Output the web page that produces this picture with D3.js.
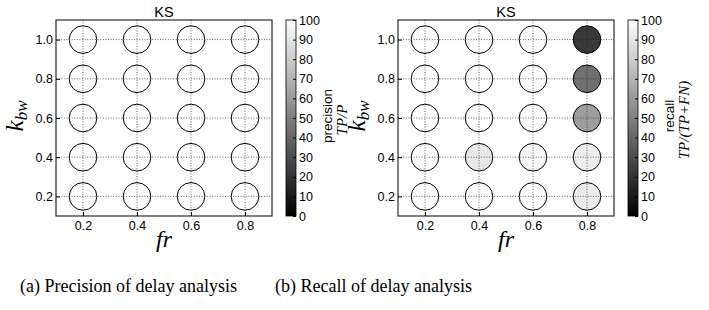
<!DOCTYPE html>
<html>
<head>
<meta charset="utf-8">
<script src="https://cdn.jsdelivr.net/npm/d3@7"></script>
<style>
  body { margin: 0; background: #fff; }
</style>
</head>
<body>
<div class="chart"></div>
<script>
// grid of the experiment
const frValues = [0.2, 0.4, 0.6, 0.8];
const kbwValues = [0.2, 0.4, 0.6, 0.8, 1.0];
const barTicks = [0, 10, 20, 30, 40, 50, 60, 70, 80, 90, 100];

// precision (%) per fr column, values listed for kbw 0.2 .. 1.0
const precisionFr02 = [100, 100, 100, 100, 100];
const precisionFr04 = [100, 100, 100, 100, 100];
const precisionFr06 = [100, 100, 100, 100, 100];
const precisionFr08 = [100, 100, 100, 100, 100];

// recall (%) per fr column, values listed for kbw 0.2 .. 1.0
const recallFr02 = [100, 100, 100, 100, 100];
const recallFr04 = [100, 91, 100, 100, 100];
const recallFr06 = [100, 97, 100, 100, 100];
const recallFr08 = [92, 93, 62, 44, 22];

const panels = [
  { offset: 0, cols: [precisionFr02, precisionFr04, precisionFr06, precisionFr08],
    label: 'precision', formula: 'TP/P', caption: '(a) Precision of delay analysis', capX: 20 },
  { offset: 342, cols: [recallFr02, recallFr04, recallFr06, recallFr08],
    label: 'recall', formula: 'TP/(TP+FN)', caption: '(b) Recall of delay analysis', capX: 275 }
];

const SANS = '"Liberation Sans", Arial, sans-serif';
const SERIF = '"Liberation Serif", "Times New Roman", serif';

const w = 709;
const h = 310;
const frame = { left: 56, right: 272, top: 20, bottom: 216 };

const svg = d3.select('.chart')
  .append('svg')
  .attr('width', w)
  .attr('height', h)
  .style('font-family', SANS);

const defs = svg.append('defs');
const grad = defs.append('linearGradient')
  .attr('id', 'gray')
  .attr('x1', 0).attr('y1', 1).attr('x2', 0).attr('y2', 0);
grad.append('stop').attr('offset', '0%').attr('stop-color', '#000');
grad.append('stop').attr('offset', '100%').attr('stop-color', '#fff');

const color = d3.scaleLinear().domain([0, 100]).range(['#000', '#fff']);

panels.forEach((p) => {
  const g = svg.append('g').attr('transform', `translate(${p.offset}, 0)`);

  const xScale = d3.scaleLinear().domain([0.1, 0.9]).range([frame.left, frame.right]);
  const yScale = d3.scaleLinear().domain([0.1, 1.1]).range([frame.bottom, frame.top]);

  const cells = [];
  frValues.forEach((fr, i) => {
    kbwValues.forEach((k, j) => cells.push({ fr: fr, k: k, v: p.cols[i][j] }));
  });

  g.selectAll('circle.cell')
    .data(cells)
    .enter()
    .append('circle')
    .attr('class', 'cell')
    .attr('cx', (d) => xScale(d.fr))
    .attr('cy', (d) => yScale(d.k))
    .attr('r', 13.8)
    .attr('fill', (d) => color(d.v))
    .attr('stroke', '#000')
    .attr('stroke-width', 1);

  // dotted grid on top, like the classic matplotlib look
  g.append('g')
    .selectAll('line')
    .data(frValues)
    .enter()
    .append('line')
    .attr('x1', (d) => xScale(d)).attr('x2', (d) => xScale(d))
    .attr('y1', frame.top).attr('y2', frame.bottom)
    .attr('stroke', '#222').attr('stroke-width', 0.7).attr('stroke-dasharray', '1,1.6');
  g.append('g')
    .selectAll('line')
    .data(kbwValues)
    .enter()
    .append('line')
    .attr('y1', (d) => yScale(d)).attr('y2', (d) => yScale(d))
    .attr('x1', frame.left).attr('x2', frame.right)
    .attr('stroke', '#222').attr('stroke-width', 0.7).attr('stroke-dasharray', '1,1.6');

  const xAxis = g.append('g')
    .attr('transform', `translate(0, ${frame.bottom})`)
    .call(d3.axisBottom(xScale).tickValues(frValues).tickFormat(d3.format('.1f'))
      .tickSizeInner(-4).tickSizeOuter(0).tickPadding(5));
  const yAxis = g.append('g')
    .attr('transform', `translate(${frame.left}, 0)`)
    .call(d3.axisLeft(yScale).tickValues(kbwValues).tickFormat(d3.format('.1f'))
      .tickSizeInner(-4).tickSizeOuter(0).tickPadding(3));
  [xAxis, yAxis].forEach((a) => {
    a.select('.domain').remove();
    a.attr('font-family', null).attr('font-size', null);
    a.selectAll('text').style('font-size', '12.5px').style('font-family', SANS).attr('fill', '#000');
  });

  g.append('rect')
    .attr('x', frame.left).attr('y', frame.top)
    .attr('width', frame.right - frame.left).attr('height', frame.bottom - frame.top)
    .attr('fill', 'none').attr('stroke', '#000').attr('stroke-width', 1);

  g.append('text')
    .attr('x', (frame.left + frame.right) / 2).attr('y', 17)
    .attr('text-anchor', 'middle').style('font-size', '14.5px')
    .text('KS');

  g.append('text')
    .attr('x', 164).attr('y', 247)
    .attr('text-anchor', 'middle')
    .style('font-family', SERIF).style('font-style', 'italic')
    .style('font-size', '24px')
    .text('fr');

  const kLabel = g.append('text')
    .attr('transform', 'translate(23, 116) rotate(-90)')
    .attr('text-anchor', 'middle')
    .style('font-family', SERIF).style('font-style', 'italic');
  kLabel.append('tspan').style('font-size', '25px').text('k');
  kLabel.append('tspan').style('font-size', '17px').attr('dy', 4).text('bw');

  // colour bar
  const barX = 286;
  const barW = 10;
  const cScale = d3.scaleLinear().domain([0, 100]).range([frame.bottom, frame.top]);
  g.append('rect')
    .attr('x', barX).attr('y', frame.top)
    .attr('width', barW).attr('height', frame.bottom - frame.top)
    .attr('fill', 'url(#gray)').attr('stroke', '#000').attr('stroke-width', 0.8);
  const cAxis = g.append('g')
    .attr('transform', `translate(${barX + barW}, 0)`)
    .call(d3.axisRight(cScale).tickValues(barTicks)
      .tickSizeInner(-3).tickSizeOuter(0).tickPadding(3));
  cAxis.select('.domain').remove();
  cAxis.attr('font-family', null).attr('font-size', null);
  cAxis.selectAll('text').style('font-size', '12.5px').style('font-family', SANS).attr('fill', '#000');

  g.append('text')
    .attr('transform', 'translate(332, 116) rotate(-90)')
    .attr('text-anchor', 'middle').style('font-size', '13.5px')
    .text(p.label);
  g.append('text')
    .attr('transform', 'translate(347, 120) rotate(-90)')
    .attr('text-anchor', 'middle').style('font-size', '15px')
    .style('font-family', SERIF).style('font-style', 'italic')
    .text(p.formula);

  svg.append('text')
    .attr('x', p.capX).attr('y', 292)
    .style('font-family', SERIF)
    .style('font-size', '18px')
    .text(p.caption);
});
</script>
</body>
</html>
